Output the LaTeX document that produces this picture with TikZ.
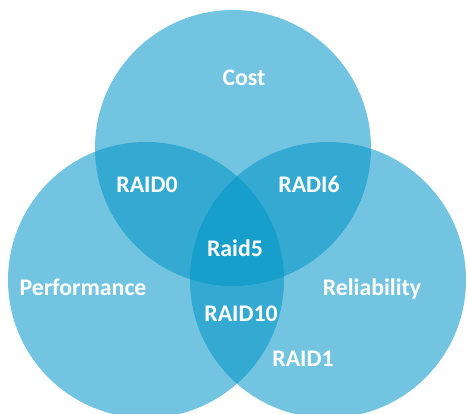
\documentclass[tikz,border=0pt]{standalone}
\usepackage{fontspec}
\setsansfont{Carlito}
\usepackage{tikz}
\usetikzlibrary{positioning, calc}
\definecolor{raidblue}{RGB}{0,148,198}
\tikzset{
   mycircle/.style={circle, fill=raidblue, fill opacity=.55, draw=none, minimum size=276pt, inner sep=0pt},
   mylabel/.style={text=white, anchor=base, inner sep=0pt, font=\sffamily\bfseries\fontsize{23.8}{28}\selectfont}
}
\begin{document}
\begin{tikzpicture}[x=1pt,y=-1pt]
    \useasboundingbox (0,0) rectangle (467,414);
    % the three sets
    \node[mycircle] (cost) at (233,148) {};
    \node[mycircle] (perf) at (146,280) {};
    \node[mycircle] (reli) at (328,280) {};
    % labels
    \node[mylabel] (costlbl) at (244,86) {Cost};
    \node[mylabel] (perflbl) at (83,296) {Performance};
    \node[mylabel] (relilbl) at (372,296) {Reliability};
    \node[mylabel] (raidzero) at (147,193) {RAID0};
    \node[mylabel] (raidsix) at (309,193) {RADI6};
    \node[mylabel] (raidfive) at (235,257) {Raid5};
    \node[mylabel] (raidten) at (241,322) {RAID10};
    \node[mylabel] (raidone) at (303,367) {RAID1};
\end{tikzpicture}
\end{document}
